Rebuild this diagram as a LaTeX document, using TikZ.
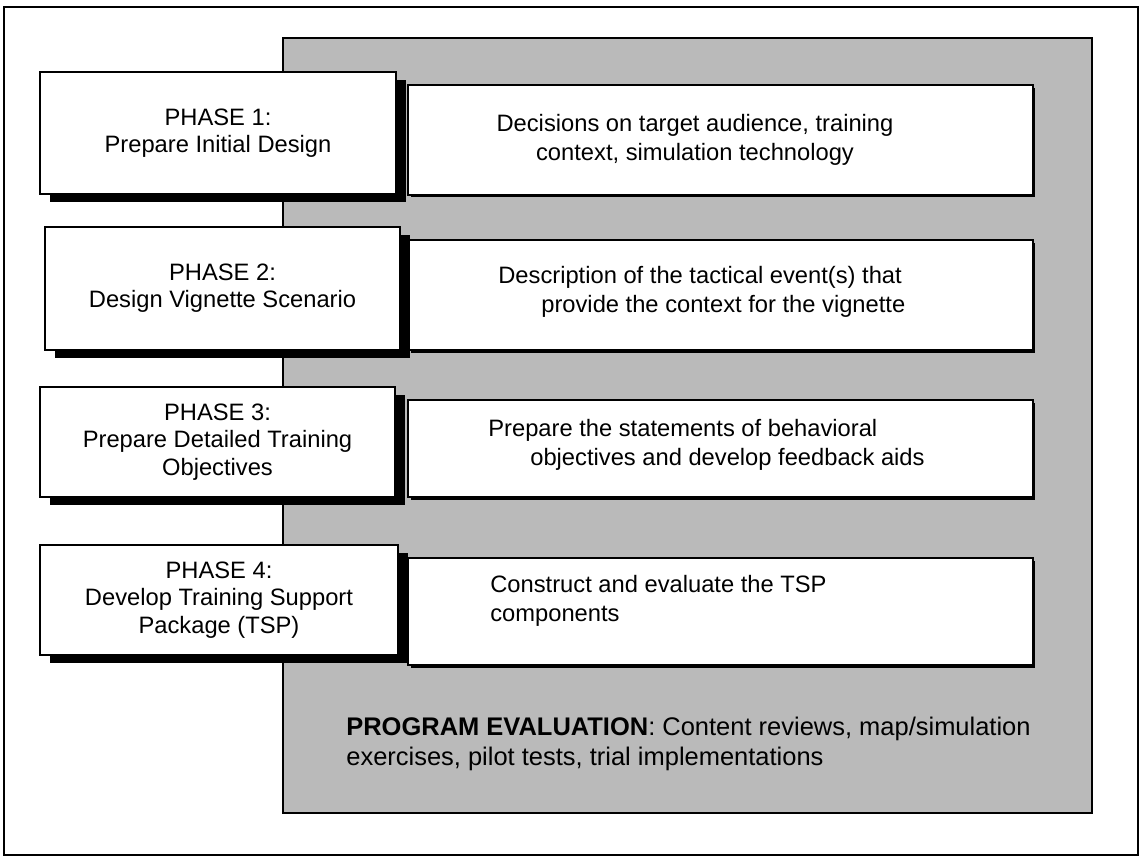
\documentclass[tikz,border=0pt]{standalone}
\usepackage{fontspec}
\setmainfont{Liberation Sans}
\usepackage{tikz}
\usepackage{xcolor}
\usetikzlibrary{shadows}

\tikzset{
    phase/.style={draw, line width=1pt, fill=white, align=center,
        drop shadow={fill=black, opacity=1, shadow xshift=0.2cm, shadow yshift=-0.16cm},
        font=\fontsize{13.5}{15.5}\selectfont},
    result/.style={draw, line width=1pt, fill=white,
        drop shadow={fill=black, opacity=1, shadow xshift=0.05cm, shadow yshift=-0.05cm}},
    resulttext/.style={align=left, anchor=west, inner sep=0pt, font=\fontsize{13.5}{16.5}\selectfont}
}

\begin{document}
\begin{tikzpicture}[x=0.02cm, y=-0.02cm]
                \useasboundingbox (0, 0) rectangle (1142, 860);

                \draw[line width=1pt]
                (4, 7) rectangle (1138, 855);

                \draw[line width=1pt, fill=black!27]
                (283, 38) rectangle (1092, 813);

                \node[result, minimum width=12.5cm, minimum height=2.2cm] (resultone) at (720.5, 140) {};
                \node[result, minimum width=12.5cm, minimum height=2.2cm] (resulttwo) at (720.5, 295) {};
                \node[result, minimum width=12.5cm, minimum height=1.94cm] (resultthree) at (720.5, 448.5) {};
                \node[result, minimum width=12.5cm, minimum height=2.14cm] (resultfour) at (720.5, 611.5) {};

                \node[phase, minimum width=7.12cm, minimum height=2.44cm] (phaseone) at (218, 133)
                {PHASE 1:\\Prepare Initial Design};
                \node[phase, minimum width=7.1cm, minimum height=2.46cm] (phasetwo) at (222.5, 288.5)
                {PHASE 2:\\Design Vignette Scenario};
                \node[phase, minimum width=7.1cm, minimum height=2.2cm] (phasethree) at (217.5, 442)
                {PHASE 3:\\Prepare Detailed Training\\Objectives};
                \node[phase, minimum width=7.16cm, minimum height=2.2cm] (phasefour) at (219, 600)
                {PHASE 4:\\Develop Training Support\\Package (TSP)};

                \node[resulttext, align=center, anchor=center] (textone) at (695, 140)
                {Decisions on target audience, training\\context, simulation technology};
                \node[resulttext] (texttwo) at (498, 292)
                {Description of the tactical event(s) that\\\hspace*{0.86cm}provide the context for the vignette};
                \node[resulttext] (textthree) at (488, 445)
                {Prepare the statements of behavioral\\\hspace*{0.84cm}objectives and develop feedback aids};
                \node[resulttext] (textfour) at (490, 601)
                {Construct and evaluate the TSP\\components};

                \node[resulttext, font=\fontsize{14.5}{17}\selectfont] (evaluation) at (346, 744)
                {\textbf{PROGRAM EVALUATION}: Content reviews, map/simulation\\exercises, pilot tests, trial implementations};
            \end{tikzpicture}
\end{document}
